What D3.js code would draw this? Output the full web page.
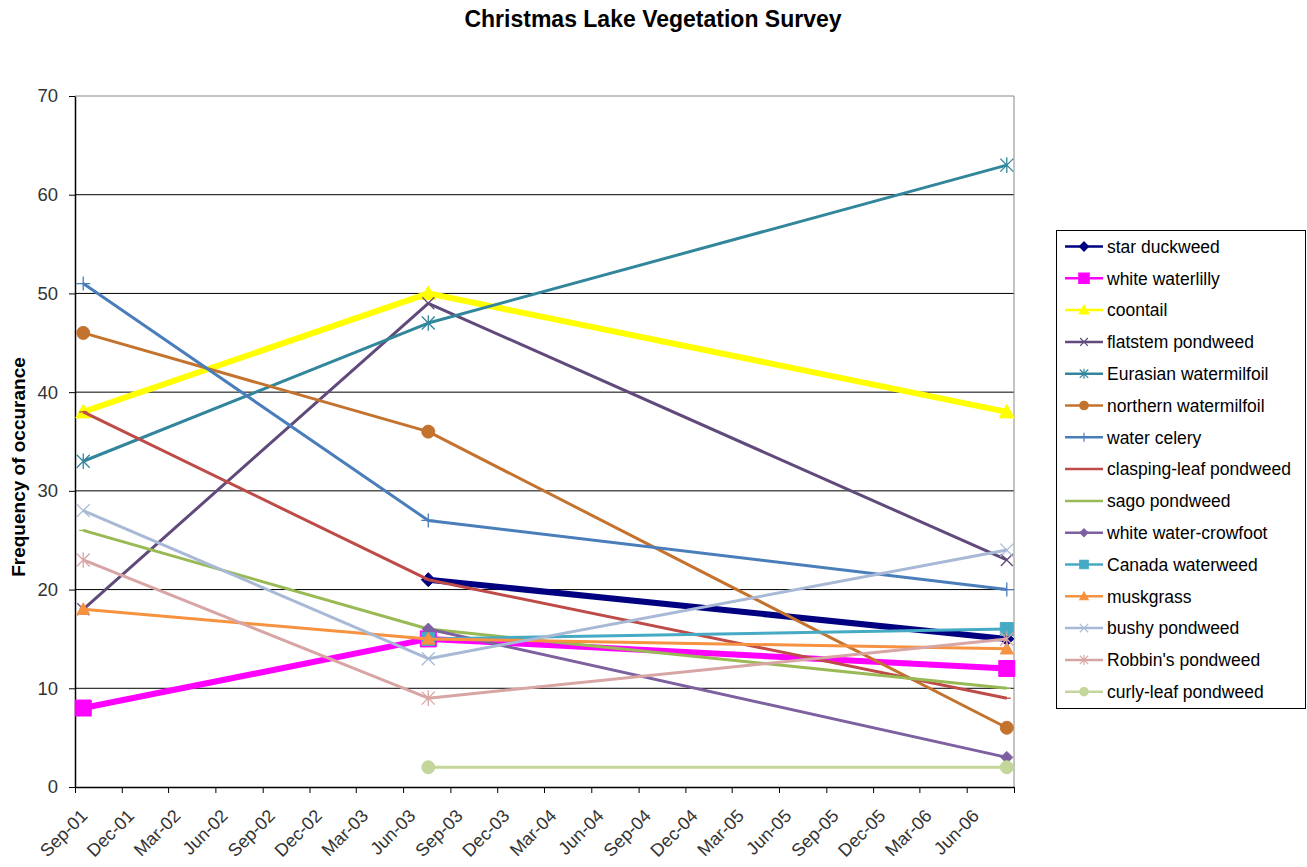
<!DOCTYPE html>
<html>
<head>
<meta charset="utf-8">
<script src="https://cdn.jsdelivr.net/npm/d3@7"></script>
<style>
  body { margin: 0; background: #fff; }
  svg { font-family: "Liberation Sans", Arial, sans-serif; }
</style>
</head>
<body>
<svg id="chart" width="1307" height="867"></svg>
<script>
// survey dates (x values)
const surveyDates = ["2001-09-17", "2003-07-20", "2006-08-18"];

// species in legend order
const speciesNames = [
  "star duckweed", "white waterlilly", "coontail", "flatstem pondweed",
  "Eurasian watermilfoil", "northern watermilfoil", "water celery",
  "clasping-leaf pondweed", "sago pondweed", "white water-crowfoot",
  "Canada waterweed", "muskgrass", "bushy pondweed", "Robbin's pondweed",
  "curly-leaf pondweed"
];

// frequency of occurance per survey (null = not recorded)
const starDuckweed = [null, 21, 15];
const whiteWaterlilly = [8, 15, 12];
const coontail = [38, 50, 38];
const flatstemPondweed = [18, 49, 23];
const eurasianWatermilfoil = [33, 47, 63];
const northernWatermilfoil = [46, 36, 6];
const waterCelery = [51, 27, 20];
const claspingLeafPondweed = [38, 21, 9];
const sagoPondweed = [26, 16, 10];
const whiteWaterCrowfoot = [null, 16, 3];
const canadaWaterweed = [null, 15, 16];
const muskgrass = [18, 15, 14];
const bushyPondweed = [28, 13, 24];
const robbinsPondweed = [23, 9, 15];
const curlyLeafPondweed = [null, 2, 2];

const yTicks = [0, 10, 20, 30, 40, 50, 60, 70];

const allValues = [starDuckweed, whiteWaterlilly, coontail, flatstemPondweed,
  eurasianWatermilfoil, northernWatermilfoil, waterCelery, claspingLeafPondweed,
  sagoPondweed, whiteWaterCrowfoot, canadaWaterweed, muskgrass, bushyPondweed,
  robbinsPondweed, curlyLeafPondweed];

// look of each series: colour, marker, line width, marker size
const styles = [
  {color: "#000080", marker: "diamond", width: 6, size: 14},
  {color: "#FF00FF", marker: "square", width: 6, size: 16},
  {color: "#FFFF00", marker: "triangle", width: 6, size: 15},
  {color: "#604A7B", marker: "x", width: 3, size: 12},
  {color: "#31869B", marker: "star", width: 3, size: 13},
  {color: "#C4732F", marker: "circle", width: 3, size: 13},
  {color: "#4A7EBB", marker: "plus", width: 3, size: 14},
  {color: "#BE4B48", marker: "dash", width: 3, size: 8},
  {color: "#98B954", marker: "dash", width: 3, size: 8},
  {color: "#7D60A0", marker: "diamond", width: 3, size: 12},
  {color: "#46AAC5", marker: "square", width: 3, size: 13},
  {color: "#F69240", marker: "triangle", width: 3, size: 13},
  {color: "#A7B9D6", marker: "x", width: 3, size: 13},
  {color: "#D7A5A4", marker: "star", width: 3, size: 13},
  {color: "#C3D69B", marker: "circle", width: 3, size: 13}
];

const parseDate = d3.timeParse("%Y-%m-%d");
const dates = surveyDates.map(parseDate);

const series = speciesNames.map((name, i) => ({
  name: name,
  style: styles[i],
  points: allValues[i].map((v, j) => ({date: dates[j], value: v})).filter(p => p.value !== null)
}));

const svg = d3.select("#chart");
const plot = {left: 75, right: 1014, top: 96, bottom: 787};

const x = d3.scaleTime()
  .domain([new Date(2001, 8, 1), new Date(2006, 8, 1)])
  .range([plot.left, plot.right]);

const y = d3.scaleLinear()
  .domain([0, 70])
  .range([plot.bottom, plot.top]);

// title
svg.append("text")
  .attr("x", 653)
  .attr("y", 27)
  .attr("text-anchor", "middle")
  .style("font-size", "23px")
  .style("font-weight", "bold")
  .text("Christmas Lake Vegetation Survey");

// y axis title
svg.append("text")
  .attr("transform", "translate(25,467) rotate(-90)")
  .attr("text-anchor", "middle")
  .style("font-size", "19px")
  .style("font-weight", "bold")
  .text("Frequency of occurance");

// gridlines
svg.append("g")
  .selectAll("line")
  .data(yTicks.filter(t => t > 0 && t < 70))
  .join("line")
  .attr("x1", plot.left).attr("x2", plot.right)
  .attr("y1", d => y(d)).attr("y2", d => y(d))
  .attr("stroke", "#000").attr("stroke-width", 1);

// plot frame (top and right)
svg.append("path")
  .attr("d", `M${plot.left},${plot.top}H${plot.right}V${plot.bottom}`)
  .attr("fill", "none")
  .attr("stroke", "#888")
  .attr("stroke-width", 1);

// y axis
const yAxis = svg.append("g")
  .attr("transform", `translate(${plot.left},0)`)
  .call(d3.axisLeft(y).tickValues(yTicks).tickSize(6).tickSizeOuter(0).tickPadding(11));
yAxis.select(".domain").attr("stroke", "#000").attr("stroke-width", 1.5);
yAxis.selectAll(".tick line").attr("stroke", "#000");
yAxis.selectAll("text")
  .style("font-size", "18.5px")
  .style("font-family", "Liberation Sans, Arial, sans-serif")
  .attr("fill", "#333");

// x axis
const xTicks = d3.timeMonth.range(new Date(2001, 8, 1), new Date(2006, 8, 2), 3);
const fmt = d3.timeFormat("%b-%y");
const lastTick = xTicks[xTicks.length - 1];
const xAxis = svg.append("g")
  .attr("transform", `translate(0,${plot.bottom})`)
  .call(d3.axisBottom(x).tickValues(xTicks).tickSize(6).tickSizeOuter(0)
    .tickFormat(d => +d === +lastTick ? "" : fmt(d)));
xAxis.select(".domain").attr("stroke", "#000").attr("stroke-width", 1.5);
xAxis.selectAll(".tick line").attr("stroke", "#000");
xAxis.selectAll("text")
  .style("font-size", "18px")
  .style("font-family", "Liberation Sans, Arial, sans-serif")
  .attr("fill", "#333")
  .attr("text-anchor", "end")
  .attr("x", 0).attr("y", 0).attr("dy", 0)
  .attr("transform", "translate(13,30) rotate(-45)");

// marker symbol paths
function markerPath(type, s) {
  const h = s / 2;
  switch (type) {
    case "diamond": return `M0,${-h}L${h},0L0,${h}L${-h},0Z`;
    case "square": return `M${-h},${-h}H${h}V${h}H${-h}Z`;
    case "triangle": return `M0,${-h}L${h},${h * 0.8}L${-h},${h * 0.8}Z`;
    case "circle": return d3.symbol(d3.symbolCircle, Math.PI * h * h)();
    case "x": return `M${-h},${-h}L${h},${h}M${-h},${h}L${h},${-h}`;
    case "star": return `M${-h},${-h}L${h},${h}M${-h},${h}L${h},${-h}M0,${-h * 1.2}V${h * 1.2}`;
    case "plus": return `M${-h},0H${h}M0,${-h}V${h}`;
    case "dash": return `M${-h},0H${h}`;
  }
}
function isOpen(type) {
  return type === "x" || type === "star" || type === "plus" || type === "dash";
}

const line = d3.line()
  .x(d => x(d.date))
  .y(d => y(d.value));

const lines = svg.append("g");
series.forEach(s => {
  const g = lines.append("g");
  g.append("path")
    .datum(s.points)
    .attr("d", line)
    .attr("fill", "none")
    .attr("stroke", s.style.color)
    .attr("stroke-width", s.style.width)
    .attr("stroke-linejoin", "round");
  g.selectAll("path.marker")
    .data(s.points)
    .join("path")
    .attr("class", "marker")
    .attr("transform", d => `translate(${x(d.date)},${y(d.value)})`)
    .attr("d", markerPath(s.style.marker, s.style.size))
    .attr("fill", isOpen(s.style.marker) ? "none" : s.style.color)
    .attr("stroke", s.style.color)
    .attr("stroke-width", isOpen(s.style.marker) ? 1.3 : 1);
});

// legend
const legend = svg.append("g");
legend.append("rect")
  .attr("x", 1056.5).attr("y", 230.5)
  .attr("width", 249).attr("height", 478)
  .attr("fill", "#fff")
  .attr("stroke", "#000")
  .attr("stroke-width", 1);

const rows = legend.selectAll("g.row")
  .data(series)
  .join("g")
  .attr("class", "row")
  .attr("transform", (d, i) => `translate(0,${246.5 + i * 31.8})`);
rows.append("line")
  .attr("x1", 1065).attr("x2", 1103)
  .attr("stroke", d => d.style.color)
  .attr("stroke-width", 2.5);
rows.append("path")
  .attr("transform", "translate(1084,0)")
  .attr("d", d => markerPath(d.style.marker, d.style.size * 0.65))
  .attr("fill", d => isOpen(d.style.marker) ? "none" : d.style.color)
  .attr("stroke", d => d.style.color)
  .attr("stroke-width", 1.2);
rows.append("text")
  .attr("x", 1107)
  .attr("dy", "0.36em")
  .style("font-size", "17.5px")
  .text(d => d.name);
</script>
</body>
</html>
